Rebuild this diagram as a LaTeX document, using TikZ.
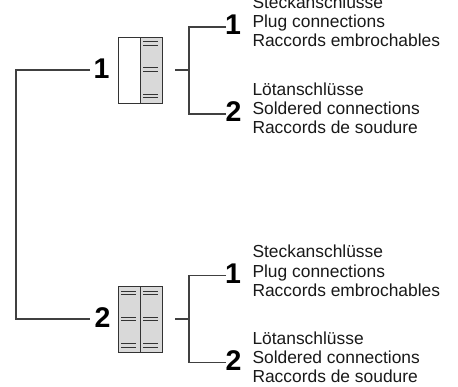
\documentclass[tikz,border=0pt]{standalone}
\usepackage{fontspec}
\setmainfont{Liberation Sans}
\tikzset{
  x=1pt,y=-1pt,
  wire/.style={draw=black!75,line width=1.1pt},
  num/.style={font=\fontsize{28.5}{28.5}\selectfont\bfseries,inner sep=0pt,text=black},
  lab/.style={font=\fontsize{17.4}{19.2}\selectfont,inner sep=0pt,anchor=west,align=left,text=black!90},
  pane/.style={draw=black!80,line width=1.2pt,fill=white,minimum width=22.2pt,minimum height=66pt,inner sep=0pt,anchor=north west},
  grey/.style={pane,fill=black!15},
  bar/.style={draw=black!80,line width=1.1pt},
}
\newcommand{\bars}[2]{%
  \foreach \yy in {-28,-24.5,-2,1.5,24.5,28}{\draw[bar] (#1-7.5,#2+\yy) -- (#1+7.5,#2+\yy);}}
\begin{document}
\begin{tikzpicture}
\useasboundingbox (0,0) rectangle (458,387);
% top unit
\node[pane] (a1) at (117.5,36.7) {};
\node[grey] (a2) at (139.6,36.7) {};
\bars{150.5}{69.7}
% bottom unit
\node[grey] (b1) at (117.5,286.2) {};
\node[grey] (b2) at (139.6,286.2) {};
\bars{128.5}{319.2}
\bars{150.5}{319.2}
% numbers
\node[num] (n1) at (101.5,68.5) {1};
\node[num] (n2) at (102.5,317.5) {2};
\node[num] (t1) at (233,25) {1};
\node[num] (t2) at (233.5,112) {2};
\node[num] (u1) at (233,273.5) {1};
\node[num] (u2) at (233.5,360.5) {2};
% coordinates
\coordinate (corT) at (16,70);
\coordinate (corB) at (16,319);
\coordinate (s1) at (175,70);
\coordinate (j1) at (189,70);
\coordinate (c1t) at (189,27);
\coordinate (c1b) at (189,114);
\coordinate (s2) at (175,319);
\coordinate (j2) at (189,319);
\coordinate (c2t) at (189,275.7);
\coordinate (c2b) at (189,362.7);
% connectors
\draw[wire] (90,70) -- (corT) -- (corB) -- (90,319);
\draw[wire] (s1) -- (j1);
\draw[wire] (226,27) -- (c1t) -- (c1b) -- (226,114);
\draw[wire] (s2) -- (j2);
\draw[wire] (226,275.7) -- (c2t) -- (c2b) -- (226,362.7);
% labels
\node[lab] (l1) at (252.3,21) {Steckanschlüsse\\Plug connections\\Raccords embrochables};
\node[lab] (l2) at (252.3,108) {Lötanschlüsse\\Soldered connections\\Raccords de soudure};
\node[lab] (l3) at (252.3,270.8) {Steckanschlüsse\\Plug connections\\Raccords embrochables};
\node[lab] (l4) at (252.3,357.3) {Lötanschlüsse\\Soldered connections\\Raccords de soudure};
\end{tikzpicture}
\end{document}
